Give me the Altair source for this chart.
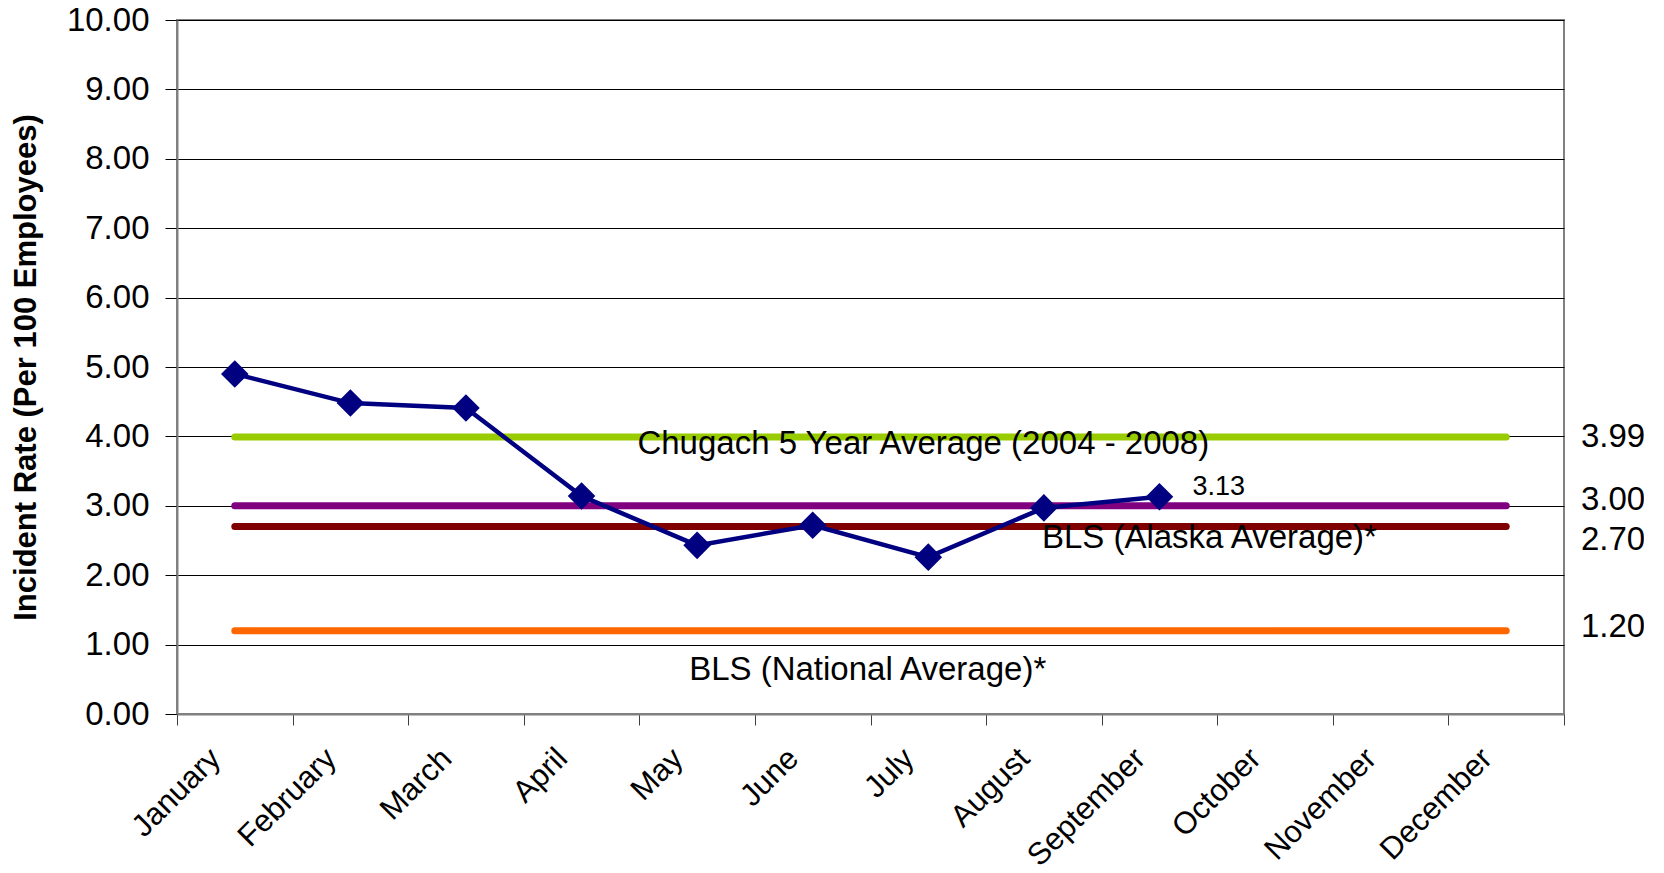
import altair as alt
import pandas as pd

FONT = "Liberation Sans"

months = ["January", "February", "March", "April", "May", "June", "July",
          "August", "September", "October", "November", "December"]
rate_months = ["January", "February", "March", "April", "May", "June",
               "July", "August", "September"]
rates = [4.90, 4.48, 4.41, 3.14, 2.43, 2.72, 2.26, 2.97, 3.13]

ref_names = ["Chugach 5 Year Average", "BLS Alaska State", "BLS (Alaska Average)*", "BLS (National Average)*"]
ref_values = [3.99, 3.00, 2.70, 1.20]
ref_colors = ["#99CC00", "#800080", "#800000", "#FF6600"]
ref_labels = ["3.99", "3.00", "2.70", "1.20"]
ref_label_dy = [0, -6, 13, -4]

W, H = 1387, 694

x_scale = alt.Scale(type="band", domain=months, paddingInner=0, paddingOuter=0)
y_scale = alt.Scale(domain=[0, 10], nice=False)

x_axis = alt.Axis(title=None, labelAngle=-45, labelAlign="right", labelBaseline="top",
                  labelFontSize=31, labelFont=FONT, labelColor="#000",
                  labelPadding=18, labelOffset=-30, tickBand="extent", tickSize=11,
                  tickColor="#404040", domainColor="#808080", domainWidth=2,
                  grid=False, labelOverlap=False, labelLimit=0)
y_axis = alt.Axis(values=list(range(11)), format=".2f", grid=True, gridColor="#000",
                  gridWidth=1, tickColor="#000", tickSize=12, labelPadding=16,
                  labelFontSize=33, labelFont=FONT, labelColor="#000",
                  domainColor="#808080", domainWidth=2,
                  title="Incident Rate (Per 100 Employees)", titleFont=FONT,
                  titleFontSize=31, titleFontWeight="bold", titleColor="#000",
                  titleX=-151, titleBaseline="middle")

# reference lines (two endpoints each: January and December)
ref_rows = []
for n, v in zip(ref_names, ref_values):
    ref_rows.append({"name": n, "month": months[0], "value": v})
    ref_rows.append({"name": n, "month": months[-1], "value": v})
ref_df = pd.DataFrame(ref_rows)

ref_lines = alt.Chart(ref_df).mark_line(strokeWidth=7, strokeCap="round").encode(
    x=alt.X("month:N", scale=x_scale, axis=x_axis, sort=months),
    y=alt.Y("value:Q", scale=y_scale, axis=y_axis),
    color=alt.Color("name:N", scale=alt.Scale(domain=ref_names, range=ref_colors), legend=None),
    detail="name:N",
)

rate_df = pd.DataFrame({"month": rate_months, "rate": rates})
rate_line = alt.Chart(rate_df).mark_line(color="#000080", strokeWidth=4.5).encode(
    x=alt.X("month:N", scale=x_scale, sort=months),
    y=alt.Y("rate:Q", scale=y_scale),
)
rate_points = alt.Chart(rate_df).mark_point(shape="diamond", filled=True, size=760,
                                            color="#000080", opacity=1).encode(
    x=alt.X("month:N", scale=x_scale, sort=months),
    y=alt.Y("rate:Q", scale=y_scale),
)

last_df = pd.DataFrame({"month": [rate_months[-1]], "rate": [rates[-1]]})
last_label = alt.Chart(last_df).mark_text(align="left", baseline="middle", dx=33, dy=-10,
                                          fontSize=27, font=FONT, color="#000").encode(
    x=alt.X("month:N", scale=x_scale, sort=months),
    y=alt.Y("rate:Q", scale=y_scale),
    text=alt.Text("rate:Q", format=".2f"),
)

layers = [ref_lines, rate_line, rate_points, last_label]

# annotations for reference lines
ann = [
    ("Chugach 5 Year Average (2004 - 2008)", "July", 3.99, "center", -5, 7),
    ("BLS (Alaska Average)*", "August", 2.70, "left", -2, 11),
    ("BLS (National Average)*", "May", 1.20, "left", -8, 39),
]
for text, m, v, al, dx, dy in ann:
    d = pd.DataFrame({"month": [m], "value": [v], "text": [text]})
    layers.append(alt.Chart(d).mark_text(align=al, baseline="middle", dx=dx, dy=dy,
                                         fontSize=33, font=FONT, color="#000").encode(
        x=alt.X("month:N", scale=x_scale, sort=months),
        y=alt.Y("value:Q", scale=y_scale),
        text="text:N",
    ))

# right-side value labels
for lab, v, dy in zip(ref_labels, ref_values, ref_label_dy):
    d = pd.DataFrame({"value": [v], "text": [lab]})
    layers.append(alt.Chart(d).mark_text(align="left", baseline="middle", dy=dy,
                                         fontSize=33, font=FONT, color="#000").encode(
        x=alt.value(W + 17),
        y=alt.Y("value:Q", scale=y_scale),
        text="text:N",
    ))

chart = alt.layer(*layers).properties(
    width=W, height=H,
    padding={"left": 169, "top": 12, "right": 80, "bottom": 156},
    autosize=alt.AutoSizeParams(type="none"),
).configure_view(stroke="#808080", strokeWidth=2)

chart.save("out.html", embed_options={"renderer": "svg", "actions": False})
